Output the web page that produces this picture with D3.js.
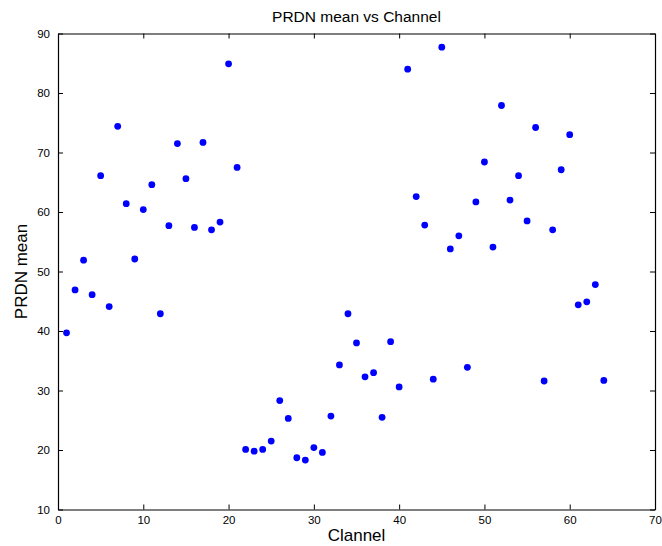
<!DOCTYPE html>
<html>
<head>
<meta charset="utf-8">
<script src="https://cdn.jsdelivr.net/npm/d3@7"></script>
<style>
  body { margin: 0; background: #fff; }
  svg text { font-family: "Liberation Sans", Arial, sans-serif; }
</style>
</head>
<body>
<svg id="chart" width="662" height="546"></svg>
<script>
// channel numbers 1..64
const channels = d3.range(1, 65);

// PRDN mean per channel
const prdnMean = [
  39.7, 46.9, 51.9, 46.1, 66.1, 44.1, 74.4, 61.4, 52.1, 60.4,
  64.6, 42.9, 57.7, 71.5, 65.6, 57.4, 71.7, 57.0, 58.3, 84.9,
  67.5, 20.1, 19.8, 20.1, 21.5, 28.3, 25.3, 18.7, 18.3, 20.4,
  19.6, 25.7, 34.3, 42.9, 38.0, 32.3, 33.0, 25.5, 38.2, 30.6,
  84.0, 62.6, 57.8, 31.9, 87.7, 53.8, 56.0, 33.9, 61.7, 68.4,
  54.1, 77.9, 62.0, 66.1, 58.5, 74.2, 31.6, 57.0, 67.1, 73.0,
  44.4, 44.9, 47.8, 31.7
];

const xTicks = [0, 10, 20, 30, 40, 50, 60, 70];
const yTicks = [10, 20, 30, 40, 50, 60, 70, 80, 90];

const svg = d3.select("#chart");
const mLeft = 58, mRight = 655, mTop = 33.5, mBottom = 509.5;

const x = d3.scaleLinear().domain([0, 70]).range([mLeft, mRight]);
const y = d3.scaleLinear().domain([10, 90]).range([mBottom, mTop]);

// box with inward ticks on all four sides
svg.append("g")
  .attr("transform", `translate(0,${mBottom})`)
  .call(d3.axisBottom(x).tickValues(xTicks).tickSizeInner(-5).tickSizeOuter(0).tickPadding(6));
svg.append("g")
  .attr("transform", `translate(0,${mTop})`)
  .call(d3.axisTop(x).tickValues(xTicks).tickSizeInner(-5).tickSizeOuter(0).tickFormat(""));
svg.append("g")
  .attr("transform", `translate(${mLeft},0)`)
  .call(d3.axisLeft(y).tickValues(yTicks).tickSizeInner(-5).tickSizeOuter(0).tickPadding(8));
svg.append("g")
  .attr("transform", `translate(${mRight},0)`)
  .call(d3.axisRight(y).tickValues(yTicks).tickSizeInner(-5).tickSizeOuter(0).tickFormat(""));

svg.selectAll(".domain").attr("stroke", "#000").attr("stroke-width", 1.2);
svg.selectAll(".tick line").attr("stroke", "#000");
svg.selectAll(".tick text").attr("font-size", 11.5).attr("fill", "#000")
  .attr("font-family", "Liberation Sans, Arial, sans-serif");

// points
svg.append("g")
  .selectAll("circle")
  .data(channels)
  .join("circle")
  .attr("cx", d => x(d))
  .attr("cy", (d, i) => y(prdnMean[i]))
  .attr("r", 3.4)
  .attr("fill", "#0000ff");

// titles
svg.append("text")
  .attr("x", (mLeft + mRight) / 2).attr("y", 22)
  .attr("text-anchor", "middle").attr("font-size", 15.5)
  .text("PRDN mean vs Channel");
svg.append("text")
  .attr("x", (mLeft + mRight) / 2).attr("y", 541)
  .attr("text-anchor", "middle").attr("font-size", 17)
  .text("Clannel");
svg.append("text")
  .attr("transform", `translate(27,${(mTop + mBottom) / 2}) rotate(-90)`)
  .attr("text-anchor", "middle").attr("font-size", 17)
  .text("PRDN mean");
</script>
</body>
</html>
